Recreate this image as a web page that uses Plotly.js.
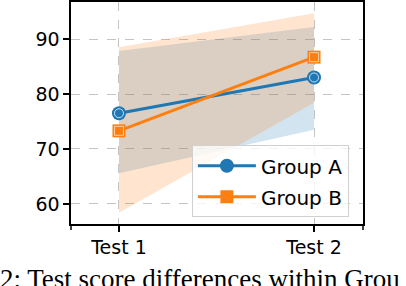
<!DOCTYPE html>
<html>
<head>
<meta charset="utf-8">
<script src="https://cdn.plot.ly/plotly-3.0.1.min.js"></script>
<style>html,body{margin:0;padding:0;background:#fff;}#chart{width:406px;height:286px;}</style>
</head>
<body>
<div id="chart"></div>
<script>
const categories = ["Test 1", "Test 2"];
const groupAMean = [76.5, 83.0];
const groupAUpper = [87.8, 92.2];
const groupALower = [65.6, 73.5];
const groupBMean = [73.3, 86.7];
const groupBUpper = [88.5, 94.7];
const groupBLower = [58.4, 78.4];
const yTicks = [60, 70, 80, 90];
const caption = "2: Test score differences within Grou";

const blue = "#1f77b4", orange = "#ff7f0e";
const font = {family: "DejaVu Sans", size: 19, color: "#000"};
const legendFont = {family: "DejaVu Sans", size: 20, color: "#000"};

const traces = [
  {x: categories, y: groupALower, mode: "lines", line: {width: 0}, showlegend: false, hoverinfo: "skip"},
  {x: categories, y: groupAUpper, mode: "lines", line: {width: 0}, fill: "tonexty", fillcolor: "rgba(31,119,180,0.2)", showlegend: false, hoverinfo: "skip"},
  {x: categories, y: groupBLower, mode: "lines", line: {width: 0}, showlegend: false, hoverinfo: "skip"},
  {x: categories, y: groupBUpper, mode: "lines", line: {width: 0}, fill: "tonexty", fillcolor: "rgba(255,127,14,0.2)", showlegend: false, hoverinfo: "skip"},
  {x: categories, y: groupAMean, mode: "lines+markers", name: "Group A", legendgroup: "a",
   line: {color: blue, width: 3}, marker: {symbol: "circle", size: 14, color: blue, line: {width: 0}}},
  {x: categories, y: groupAMean, mode: "markers", showlegend: false, hoverinfo: "skip",
   marker: {symbol: "circle-open", size: 9, color: "rgba(255,255,255,0.75)", line: {width: 1}}},
  {x: categories, y: groupBMean, mode: "lines+markers", name: "Group B", legendgroup: "b",
   line: {color: orange, width: 3}, marker: {symbol: "square", size: 13, color: orange, line: {width: 0}}},
  {x: categories, y: groupBMean, mode: "markers", showlegend: false, hoverinfo: "skip",
   marker: {symbol: "square-open", size: 9, color: "rgba(255,255,255,0.6)", line: {width: 1}}}
];

const layout = {
  width: 406, height: 286,
  margin: {l: 71, r: 43, t: 2, b: 62},
  paper_bgcolor: "#fff", plot_bgcolor: "#fff",
  font: font,
  showlegend: true,
  legend: {x: 0.414, y: 0.355, xanchor: "left", yanchor: "top",
    bgcolor: "rgba(255,255,255,0.8)", bordercolor: "#d0d0d0", borderwidth: 1,
    font: legendFont, traceorder: "grouped", tracegroupgap: 2, itemwidth: 58},
  xaxis: {type: "category", range: [-0.246, 1.251], showgrid: true, gridcolor: "#c4c4c4", griddash: "dash", gridwidth: 1,
    showline: true, linecolor: "#000", linewidth: 1.6, mirror: true,
    ticks: "outside", ticklen: 6, tickwidth: 1.5, tickcolor: "#000", tickfont: font, zeroline: false},
  yaxis: {range: [56.36, 96.73], tickvals: yTicks, ticktext: yTicks.map(String), showgrid: true, gridcolor: "#c4c4c4", griddash: "dash", gridwidth: 1,
    showline: true, linecolor: "#000", linewidth: 1.6, mirror: true,
    ticks: "outside", ticklen: 6, tickwidth: 1.5, tickcolor: "#000", tickfont: font, zeroline: false},
  shapes: [
    {type: "line", xref: "paper", yref: "paper", x0: 0, x1: 0, y0: 0, y1: -0.027, line: {color: "#000", width: 1.5}},
    {type: "line", xref: "paper", yref: "paper", x0: 1, x1: 1, y0: 0, y1: -0.027, line: {color: "#000", width: 1.5}}
  ],
  annotations: [
    {text: caption, xref: "paper", yref: "paper", x: -0.25, y: -0.247, xanchor: "left", yanchor: "middle",
     showarrow: false, font: {family: "Liberation Serif", size: 27, color: "#000"}}
  ]
};

Plotly.newPlot("chart", traces, layout, {staticPlot: true, displayModeBar: false});
</script>
</body>
</html>
